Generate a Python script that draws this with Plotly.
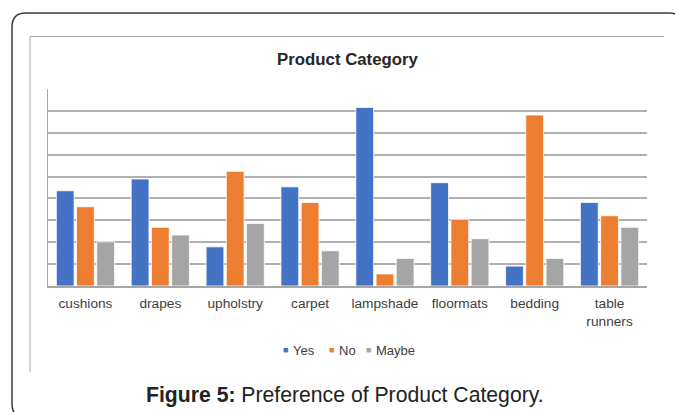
import plotly.graph_objects as go

categories = ["cushions", "drapes", "upholstry", "carpet", "lampshade",
              "floormats", "bedding", "table<br>runners"]
yes_vals = [4.35, 4.89, 1.79, 4.53, 8.16, 4.72, 0.91, 3.82]
no_vals = [3.62, 2.68, 5.24, 3.82, 0.55, 3.05, 7.81, 3.21]
maybe_vals = [2.02, 2.33, 2.86, 1.61, 1.26, 2.16, 1.26, 2.68]
series_names = ["Yes", "No", "Maybe"]
series_colors = ["#4472C4", "#ED7D31", "#A5A5A5"]

W, H = 675, 412
PL, PR, PT, PB = 48, 647, 89, 286  # plot area pixels


def px(x):
    return (x - PL) / (PR - PL)


def py(y):
    return (PB - y) / (PB - PT)


FONT = "Liberation Sans, Arial, sans-serif"

fig = go.Figure()
for name, vals, col in zip(series_names, [yes_vals, no_vals, maybe_vals], series_colors):
    fig.add_trace(go.Bar(x=categories, y=vals, name=name, showlegend=False,
                         marker=dict(color=col, line=dict(color="white", width=0.8))))

# rounded outer frame
x0, y0, x1, y1, r = 12, 13, 683, 418, 14
path = (f"M {px(x0)},{py(y0 + r)} "
        f"Q {px(x0)},{py(y0)} {px(x0 + r)},{py(y0)} "
        f"L {px(x1 - r)},{py(y0)} "
        f"Q {px(x1)},{py(y0)} {px(x1)},{py(y0 + r)} "
        f"L {px(x1)},{py(y1 - r)} "
        f"Q {px(x1)},{py(y1)} {px(x1 - r)},{py(y1)} "
        f"L {px(x0 + r)},{py(y1)} "
        f"Q {px(x0)},{py(y1)} {px(x0)},{py(y1 - r)} Z")

shapes = [
    dict(type="path", xref="paper", yref="paper", path=path,
         line=dict(color="#3a3a3a", width=1.5), layer="below"),
    # inner chart box (top and left edges)
    dict(type="line", xref="paper", yref="paper", x0=px(30), x1=px(664),
         y0=py(36.5), y1=py(36.5), line=dict(color="#a6a6a6", width=1)),
    dict(type="line", xref="paper", yref="paper", x0=px(30), x1=px(30),
         y0=py(36.5), y1=py(372), line=dict(color="#a6a6a6", width=1)),
]

annotations = [dict(text="<b>Figure 5:</b> Preference of Product Category.",
                    xref="paper", yref="paper", x=px(345), y=py(395),
                    xanchor="center", yanchor="middle", showarrow=False,
                    font=dict(family=FONT, size=21.2, color="#222222"))]

# compact legend (Excel style): small square + label
legend_sq_x = [285.7, 331.3, 368.7]
for name, col, sx in zip(series_names, series_colors, legend_sq_x):
    annotations.append(dict(text="■", xref="paper", yref="paper",
                            x=px(sx), y=py(350), xanchor="center", yanchor="middle",
                            showarrow=False, font=dict(family=FONT, size=9, color=col)))
    annotations.append(dict(text=name, xref="paper", yref="paper",
                            x=px(sx + 5.5), y=py(350), xanchor="left", yanchor="middle",
                            showarrow=False, font=dict(family=FONT, size=13, color="#404040")))

fig.update_layout(
    width=W, height=H,
    margin=dict(l=PL, r=W - PR, t=PT, b=H - PB),
    paper_bgcolor="white", plot_bgcolor="white",
    barmode="group", bargap=0.19, bargroupgap=0.12,
    font=dict(family=FONT, color="#595959", size=12),
    title=dict(text="<b>Product Category</b>", x=0.5, xref="paper",
               xanchor="center", y=1 - 59 / H, yanchor="middle",
               font=dict(family=FONT, size=16.8, color="#262626")),
    xaxis=dict(showline=True, linecolor="#a6a6a6", linewidth=1.5,
               ticks="", ticklabelstandoff=4,
               tickfont=dict(size=13.7, color="#404040"),
               showgrid=False, fixedrange=True),
    yaxis=dict(range=[0, 9], dtick=1, showgrid=True, gridcolor="#b0b0b0",
               gridwidth=1.5, showticklabels=False, ticks="",
               showline=True, linecolor="#a6a6a6", linewidth=1,
               zeroline=False, fixedrange=True),
    showlegend=False,
    shapes=shapes,
    annotations=annotations,
)

fig.write_html("out.html")
